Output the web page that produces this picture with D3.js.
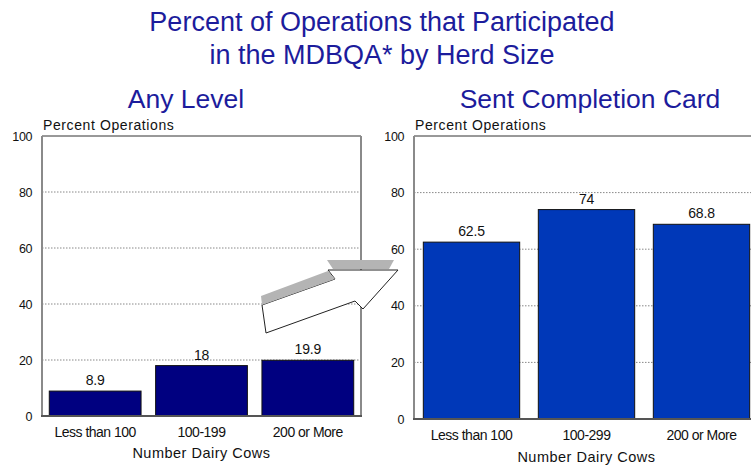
<!DOCTYPE html>
<html lang="en">
<head>
  <meta charset="UTF-8">
  <title>Percent of Operations that Participated in the MDBQA* by Herd Size</title>
  <script src="https://d3js.org/d3.v7.min.js"></script>
  <style>
    body {
      margin: 0;
      background: #fff;
      font-family: "Liberation Sans", Arial, sans-serif;
      overflow: hidden;
    }
    .title { fill: #1c1c9c; font-size: 27px; }
    .sub { fill: #1c1c9c; font-size: 26.5px; }
    .ylab { fill: #111; font-size: 14px; letter-spacing: 0.6px; }
    .cat { fill: #111; font-size: 14px; letter-spacing: -0.5px; }
    .val { fill: #111; font-size: 14px; letter-spacing: -0.2px; }
    .xlab { fill: #111; font-size: 14.5px; letter-spacing: 0.5px; }
    .tick { fill: #111; font-size: 12.5px; letter-spacing: -0.4px; }
    .grid { stroke: #888; stroke-width: 1; stroke-dasharray: 1.5 1.5; }
  </style>
</head>
<body>
  <div id="chart"></div>

  <script>
    const leftCategories = ["Less than 100", "100-199", "200 or More"];
    const leftValues = [8.9, 18, 19.9];
    const rightCategories = ["Less than 100", "100-299", "200 or More"];
    const rightValues = [62.5, 74, 68.8];
    const yTicks = [0, 20, 40, 60, 80, 100];

    const width = 751;
    const height = 466;

    const svg = d3.select("#chart").append("svg")
      .attr("width", width)
      .attr("height", height);

    // main title
    svg.append("text").attr("class", "title")
      .attr("x", 382).attr("y", 31).attr("text-anchor", "middle")
      .text("Percent of Operations that Participated");
    svg.append("text").attr("class", "title")
      .attr("x", 382).attr("y", 64).attr("text-anchor", "middle")
      .text("in the MDBQA* by Herd Size");

    const drawPanel = (opt) => {
      const { x0, x1, y0, y1, cats, vals, color, pad, subtitle, subX, xlabDy } = opt;

      const x = d3.scaleBand().domain(cats).range([x0, x1])
        .paddingInner(pad).paddingOuter(pad / 2);
      const y = d3.scaleLinear().domain([0, 100]).range([y1, y0]);

      const g = svg.append("g");

      g.append("text").attr("class", "sub")
        .attr("x", subX).attr("y", 108).attr("text-anchor", "middle")
        .text(subtitle);

      g.append("text").attr("class", "ylab")
        .attr("x", x0 + 1).attr("y", y0 - 6.5)
        .text("Percent Operations");

      // gridlines
      g.selectAll(".grid")
        .data(yTicks.filter(t => t > 0 && t < 100))
        .enter().append("line")
        .attr("class", "grid")
        .attr("x1", x0).attr("x2", x1)
        .attr("y1", d => y(d)).attr("y2", d => y(d));

      // tick labels
      g.selectAll(".tick")
        .data(yTicks)
        .enter().append("text")
        .attr("class", "tick")
        .attr("x", x0 - 10)
        .attr("y", d => y(d) + 4.5)
        .attr("text-anchor", "end")
        .text(d => d);

      // bars
      g.selectAll(".bar")
        .data(vals)
        .enter().append("rect")
        .attr("x", (d, i) => x(cats[i]))
        .attr("width", x.bandwidth())
        .attr("y", d => y(d))
        .attr("height", d => y(0) - y(d))
        .attr("fill", color)
        .attr("stroke", "#111")
        .attr("stroke-width", 1);

      // value labels
      g.selectAll(".val")
        .data(vals)
        .enter().append("text")
        .attr("class", "val")
        .attr("x", (d, i) => x(cats[i]) + x.bandwidth() / 2)
        .attr("y", d => y(d) - 6)
        .attr("text-anchor", "middle")
        .text(d => d);

      // frame
      g.append("line").attr("x1", x0).attr("x2", x1).attr("y1", y0).attr("y2", y0)
        .attr("stroke", "#333").attr("stroke-width", 1);
      g.append("line").attr("x1", x0).attr("x2", x0).attr("y1", y0).attr("y2", y1)
        .attr("stroke", "#8a8a8a").attr("stroke-width", 2);
      g.append("line").attr("x1", x1).attr("x2", x1).attr("y1", y0).attr("y2", y1)
        .attr("stroke", "#8a8a8a").attr("stroke-width", 2);
      g.append("line").attr("x1", x0 - 1).attr("x2", x1 + 1).attr("y1", y1).attr("y2", y1)
        .attr("stroke", "#555").attr("stroke-width", 2);

      // category labels
      g.selectAll(".cat")
        .data(cats)
        .enter().append("text")
        .attr("class", "cat")
        .attr("x", d => x(d) + x.bandwidth() / 2)
        .attr("y", y1 + 21)
        .attr("text-anchor", "middle")
        .text(d => d);

      g.append("text").attr("class", "xlab")
        .attr("x", (x0 + x1) / 2).attr("y", y1 + xlabDy)
        .attr("text-anchor", "middle")
        .text("Number Dairy Cows");
    };

    drawPanel({
      x0: 42, x1: 361, y0: 136, y1: 416,
      cats: leftCategories, vals: leftValues,
      color: "#000080", pad: 0.137,
      subtitle: "Any Level", subX: 186, xlabDy: 42
    });

    drawPanel({
      x0: 414, x1: 759, y0: 136, y1: 419,
      cats: rightCategories, vals: rightValues,
      color: "#0038b8", pad: 0.162,
      subtitle: "Sent Completion Card", subX: 590, xlabDy: 43
    });

    // 3D arrow from the left panel to the right panel
    const line = d3.line();
    svg.append("path")
      .attr("d", line([[262, 305], [335, 279], [328, 270], [398, 270], [363, 309], [355, 301], [266, 333]]) + "Z")
      .attr("fill", "#fff").attr("stroke", "#222").attr("stroke-width", 1);
    svg.append("path")
      .attr("d", line([[261, 296], [328, 271], [335, 279], [262, 305]]) + "Z")
      .attr("fill", "#b4b4b4");
    svg.append("path")
      .attr("d", line([[327, 260], [394, 260], [389, 269], [333, 269]]) + "Z")
      .attr("fill", "#b4b4b4");
  </script>
</body>
</html>
